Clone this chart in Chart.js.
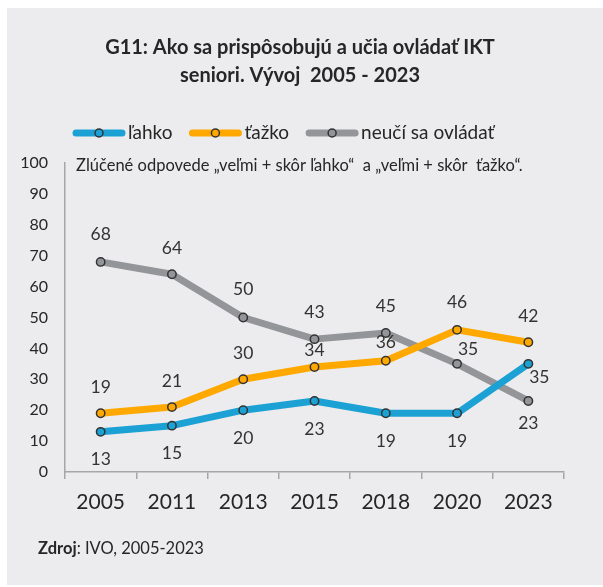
<!DOCTYPE html>
<html><head><meta charset="utf-8">
<script src="https://cdn.jsdelivr.net/npm/chart.js"></script>
<style>html,body{margin:0;padding:0;background:#fff}canvas{display:block}</style>
</head><body>
<canvas id="c" width="603" height="587"></canvas>
<script>
const categories = ['2005', '2011', '2013', '2015', '2018', '2020', '2023'];
const lahko = [13, 15, 20, 23, 19, 19, 35];
const tazko = [19, 21, 30, 34, 36, 46, 42];
const neuci = [68, 64, 50, 43, 45, 35, 23];
const seriesNames = ['ľahko', 'ťažko', 'neučí sa ovládať'];
const yTicks = [0, 10, 20, 30, 40, 50, 60, 70, 80, 90, 100];
const titleLines = ['G11: Ako sa prispôsobujú a učia ovládať IKT', 'seniori. Vývoj  2005 - 2023'];
const noteText = 'Zlúčené odpovede „veľmi + skôr ľahko“  a „veľmi + skôr  ťažko“.';
const sourceBold = 'Zdroj';
const sourceRest = ': IVO, 2005-2023';

const FONT = 'Lato, "Open Sans", sans-serif';
const colors = ['#1BA1D4', '#FFA800', '#939598'];
const labelOffsets = [
  [[0,28],[0,28],[0,28],[0,28],[0,28],[0,28],[11,14]],
  [[0,-26],[0,-26],[0,-26],[0,-17],[0,-18],[0,-28],[0,-26]],
  [[0,-28],[0,-26],[0,-28],[0,-27],[0,-27],[11,-14],[0,22]]
];

const decor = {
  id: 'decor',
  beforeDraw(chart) {
    const ctx = chart.ctx;
    ctx.save();
    ctx.fillStyle = '#fff';
    ctx.fillRect(0, 0, chart.width, chart.height);
    ctx.fillStyle = '#ECECEE';
    ctx.fillRect(7, 8, chart.width - 7, 577);
    ctx.restore();
  },
  afterDraw(chart) {
    const ctx = chart.ctx;
    ctx.save();
    // title
    ctx.fillStyle = '#262626';
    ctx.font = 'bold 20px ' + FONT;
    ctx.textAlign = 'center';
    ctx.textBaseline = 'middle';
    ctx.fillText(titleLines[0], 300, 48);
    ctx.fillText(titleLines[1], 300, 76);
    // legend
    ctx.font = '19px ' + FONT;
    ctx.textAlign = 'left';
    let x = 73;
    const ly = 133;
    chart.data.datasets.forEach((ds, i) => {
      ctx.strokeStyle = ds.borderColor;
      ctx.lineWidth = 7;
      ctx.lineCap = 'round';
      ctx.beginPath();
      ctx.moveTo(x + 3, ly);
      ctx.lineTo(x + 49, ly);
      ctx.stroke();
      ctx.beginPath();
      ctx.arc(x + 26, ly, 4, 0, Math.PI * 2);
      ctx.fillStyle = ds.backgroundColor;
      ctx.fill();
      ctx.lineWidth = 1.5;
      ctx.strokeStyle = '#333';
      ctx.stroke();
      ctx.fillStyle = '#262626';
      ctx.fillText(ds.label, x + 55, ly);
      x += 55 + ctx.measureText(ds.label).width + 17;
    });
    // note
    ctx.font = '16.5px ' + FONT;
    ctx.fillStyle = '#262626';
    ctx.fillText(noteText, 76, 166);
    // source
    ctx.font = 'bold 16.5px ' + FONT;
    ctx.fillText(sourceBold, 38, 549);
    const w = ctx.measureText(sourceBold).width;
    ctx.font = '16.5px ' + FONT;
    ctx.fillText(sourceRest, 38 + w, 549);
    // data labels
    ctx.font = '17.5px ' + FONT;
    ctx.textAlign = 'center';
    ctx.fillStyle = '#333';
    chart.data.datasets.forEach((ds, i) => {
      const meta = chart.getDatasetMeta(i);
      meta.data.forEach((pt, j) => {
        const off = labelOffsets[i][j];
        ctx.fillText(String(ds.data[j]), pt.x + off[0], pt.y + off[1]);
      });
    });
    ctx.restore();
  }
};

const mk = (label, data, c) => ({
  label, data,
  borderColor: c, backgroundColor: c,
  borderWidth: 7,
  pointRadius: 4.2, pointHoverRadius: 4.2,
  pointBorderColor: '#333', pointBackgroundColor: c, pointBorderWidth: 1.5,
  tension: 0, borderCapStyle: 'round', borderJoinStyle: 'round'
});

new Chart(document.getElementById('c'), {
  type: 'line',
  data: {
    labels: categories,
    datasets: [
      mk(seriesNames[0], lahko, colors[0]),
      mk(seriesNames[1], tazko, colors[1]),
      mk(seriesNames[2], neuci, colors[2])
    ]
  },
  options: {
    responsive: false,
    animation: false,
    devicePixelRatio: 1,
    layout: { padding: { top: 163, right: 39, bottom: 0, left: 0 } },
    plugins: { legend: { display: false }, title: { display: false }, tooltip: { enabled: false } },
    scales: {
      x: {
        offset: true,
        grid: { offset: true, drawOnChartArea: false, drawTicks: true, tickLength: 7, color: '#A6A6A6', lineWidth: 1.5 },
        border: { display: true, color: '#A6A6A6', width: 1.5 },
        ticks: { color: '#262626', font: { family: FONT, size: 21 }, padding: 11 },
        afterFit(s) { s.height = 115; }
      },
      y: {
        min: 0, max: 100,
        afterBuildTicks(s) { s.ticks = yTicks.map(v => ({ value: v })); },
        grid: { display: false, drawTicks: false },
        border: { display: true, color: '#A6A6A6', width: 1.5 },
        ticks: { color: '#262626', font: { family: FONT, size: 16 }, padding: 17 },
        afterFit(s) { s.width = 65; }
      }
    }
  },
  plugins: [decor]
});
</script>
</body></html>
